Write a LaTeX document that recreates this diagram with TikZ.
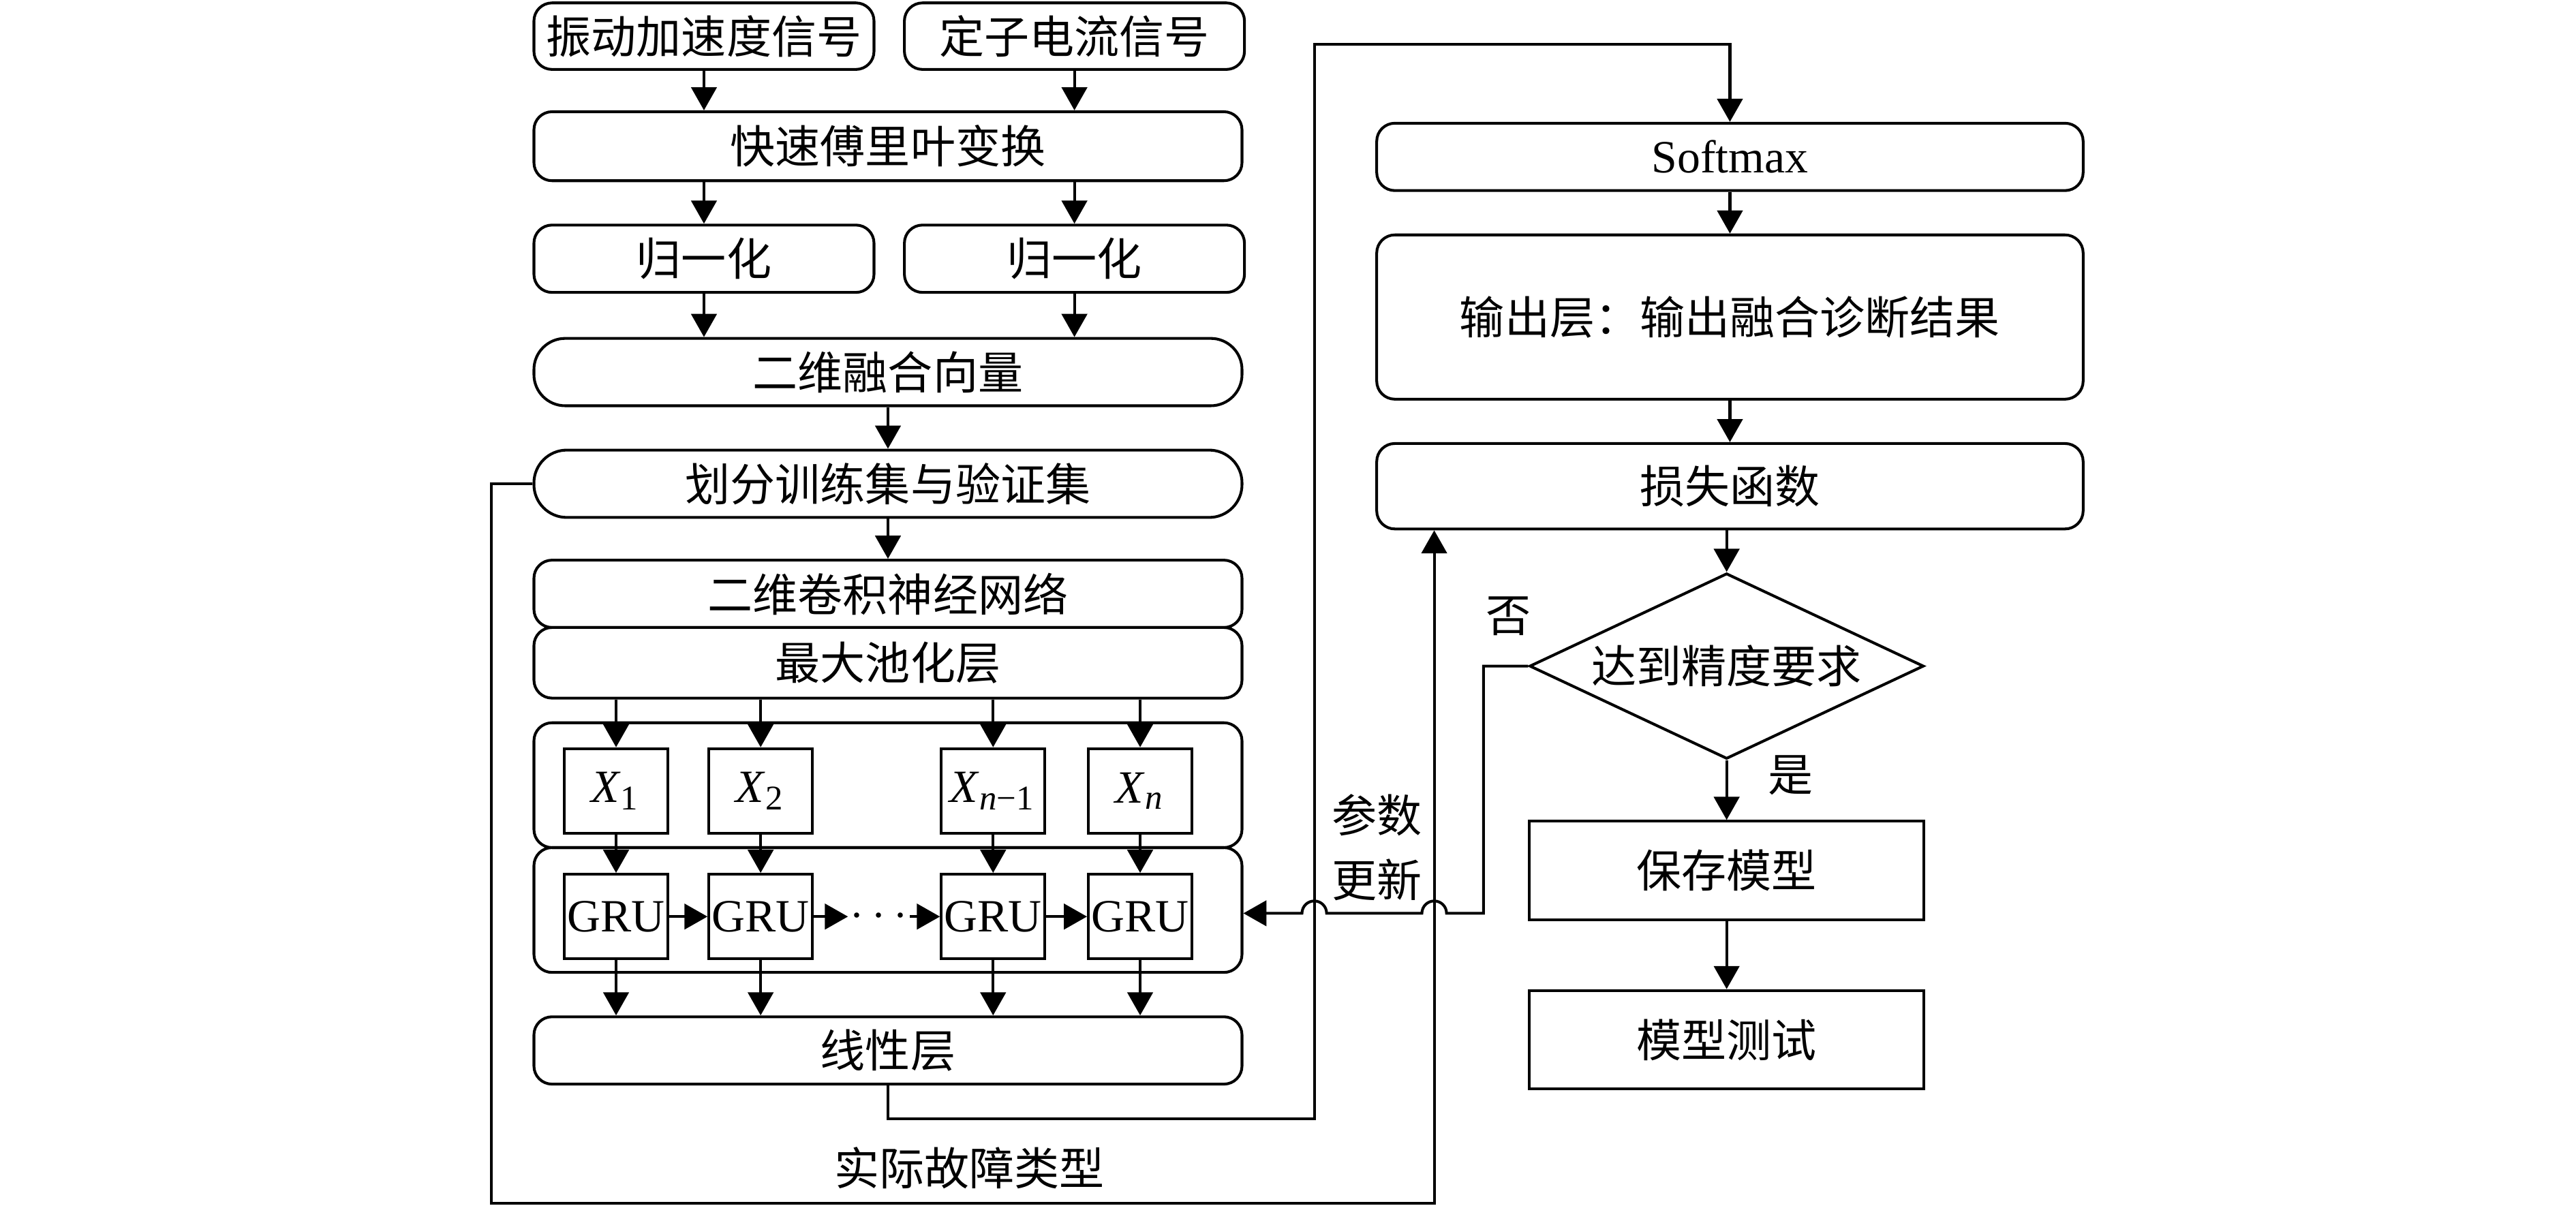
\documentclass[tikz,border=0pt]{standalone}
\usepackage{fontspec}
\setmainfont{Liberation Serif}
\newfontfamily\cjk{Noto Sans CJK SC}
\usetikzlibrary{arrows.meta,shapes.geometric}
\begin{document}
\begin{tikzpicture}[x=0.1mm,y=-0.1mm, line width=0.48pt,
  >={Triangle[length=4pt,width=4.4pt]},
  every node/.style={inner sep=0pt, font=\fontsize{7.8pt}{9pt}\selectfont\cjk},
  latin/.style={font=\fontsize{8pt}{9pt}\selectfont\rmfamily},
  rbox/.style={draw, rounded corners=1.1mm, minimum width=43.1mm, minimum height=4.1mm},
  hbox/.style={draw, rounded corners=1.1mm, minimum width=20.7mm, minimum height=4.05mm},
  pill/.style={draw, rounded corners=2.0mm, minimum width=43.1mm, minimum height=4.1mm},
  cbox/.style={draw, rounded corners=1.1mm, minimum width=43.1mm, minimum height=7.6mm},
  sbox/.style={draw, minimum width=6.3mm, minimum height=5.15mm, latin},
  rtbox/.style={draw, rounded corners=1.1mm, minimum width=43.0mm},
  pbox/.style={draw, minimum width=24.0mm, minimum height=6.0mm},
  decide/.style={draw, diamond, aspect=2.12, minimum width=24.0mm, minimum height=11.3mm},
  lab/.style={}]
\useasboundingbox (0,0) rectangle (1568,734);

% left column
\node[hbox] (s1) at (428.5,22) {振动加速度信号};
\node[hbox] (s2) at (654,22) {定子电流信号};
\node[rbox, minimum height=4.2mm] (fft) at (540.5,89) {快速傅里叶变换};
\node[hbox, minimum height=4.1mm] (n1) at (428.5,157.5) {归一化};
\node[hbox, minimum height=4.1mm] (n2) at (654,157.5) {归一化};
\node[pill, rounded corners=1.9mm] (fuse) at (540.5,226.5) {二维融合向量};
\node[pill] (split) at (540.5,294.5) {划分训练集与验证集};
\node[rbox] (cnn) at (540.5,361.5) {二维卷积神经网络};
\node[rbox, minimum height=4.3mm] (pool) at (540.5,403.5) {最大池化层};
\node[cbox] (xc) at (540.5,478) {};
\node[cbox] (gc) at (540.5,554) {};
\node[rbox] (lin) at (540.5,639.5) {线性层};

\node[sbox] (x1) at (375,481.5) {\textit{X}\textsubscript{1}};
\node[sbox] (x2) at (463,481.5) {\textit{X}\textsubscript{2}};
\node[sbox] (x3) at (604.5,481.5) {\textit{X}\textsubscript{\textit{n}−1}};
\node[sbox] (x4) at (694,481.5) {\textit{X}\textsubscript{\textit{n}}};

\node[sbox] (g1) at (375,558) {GRU};
\node[sbox] (g2) at (463,558) {GRU};
\node[sbox] (g3) at (604.5,558) {GRU};
\node[sbox] (g4) at (694,558) {GRU};
\node[latin, minimum width=3.6mm] (dots) at (535,558) {$\cdots$};

% right column
\node[rtbox, minimum height=4.1mm, latin] (sm) at (1053,95.5) {Softmax};
\node[rtbox, minimum height=10.0mm] (out) at (1053,193) {输出层：输出融合诊断结果};
\node[rtbox, minimum height=5.2mm] (loss) at (1053,296) {损失函数};
\node[decide] (dec) at (1051,405.5) {达到精度要求};
\node[pbox] (save) at (1051,530) {保存模型};
\node[pbox] (test) at (1051,633) {模型测试};

% labels
\node (no) at (918,375) {否};
\node (yes) at (1090,472) {是};
\node[align=center, font=\fontsize{7.8pt}{11.2pt}\selectfont\cjk] (upd) at (838,516) {参数\\更新};
\node (real) at (590,711) {实际故障类型};

% arrows left column
\draw[->] (s1.south) -- (s1.south |- fft.north);
\draw[->] (s2.south) -- (s2.south |- fft.north);
\draw[->] (n1.north |- fft.south) -- (n1.north);
\draw[->] (n2.north |- fft.south) -- (n2.north);
\draw[->] (n1.south) -- (n1.south |- fuse.north);
\draw[->] (n2.south) -- (n2.south |- fuse.north);
\draw[->] (fuse.south) -- (split.north);
\draw[->] (split.south) -- (cnn.north);
\foreach \i in {1,2,3,4} {
  \draw[->] (x\i.north |- pool.south) -- (x\i.north);
  \draw[->] (x\i.south) -- (g\i.north);
  \draw[->] (g\i.south) -- (g\i.south |- lin.north);
}
\draw[->] (g1.east) -- (g2.west);
\draw[->] (g2.east) -- (dots.west);
\draw[->] (dots.east) -- (g3.west);
\draw[->] (g3.east) -- (g4.west);

% linear -> softmax
\coordinate (ca) at (800,681);
\coordinate (cb) at (800,27);
\draw[->] (lin.south) |- (ca) -- (cb) -| (sm.north);

% right column arrows
\draw[->] (sm.south) -- (sm.south |- out.north);
\draw[->] (out.south) -- (out.south |- loss.north);
\draw[->] (loss.south -| dec.north) -- (dec.north);
\draw[->] (dec.south) -- (save.north);
\draw[->] (save.south) -- (test.north);

% feedback: actual fault type
\coordinate (cc) at (299,732.5);
\coordinate (cd) at (873,732.5);
\draw[->] (split.west) -| (cc) -- (cd) -- (cd |- loss.south);

% feedback: parameter update
\coordinate (ce) at (903,405.5);
\coordinate (cf) at (903,556);
\draw[->] (dec.west) -- (ce) -- (cf) -- (880.5,556)
  arc[start angle=0,end angle=180,radius=0.75mm] -- (807.5,556)
  arc[start angle=0,end angle=180,radius=0.75mm] -- (gc.east |- cf);
\end{tikzpicture}
\end{document}
